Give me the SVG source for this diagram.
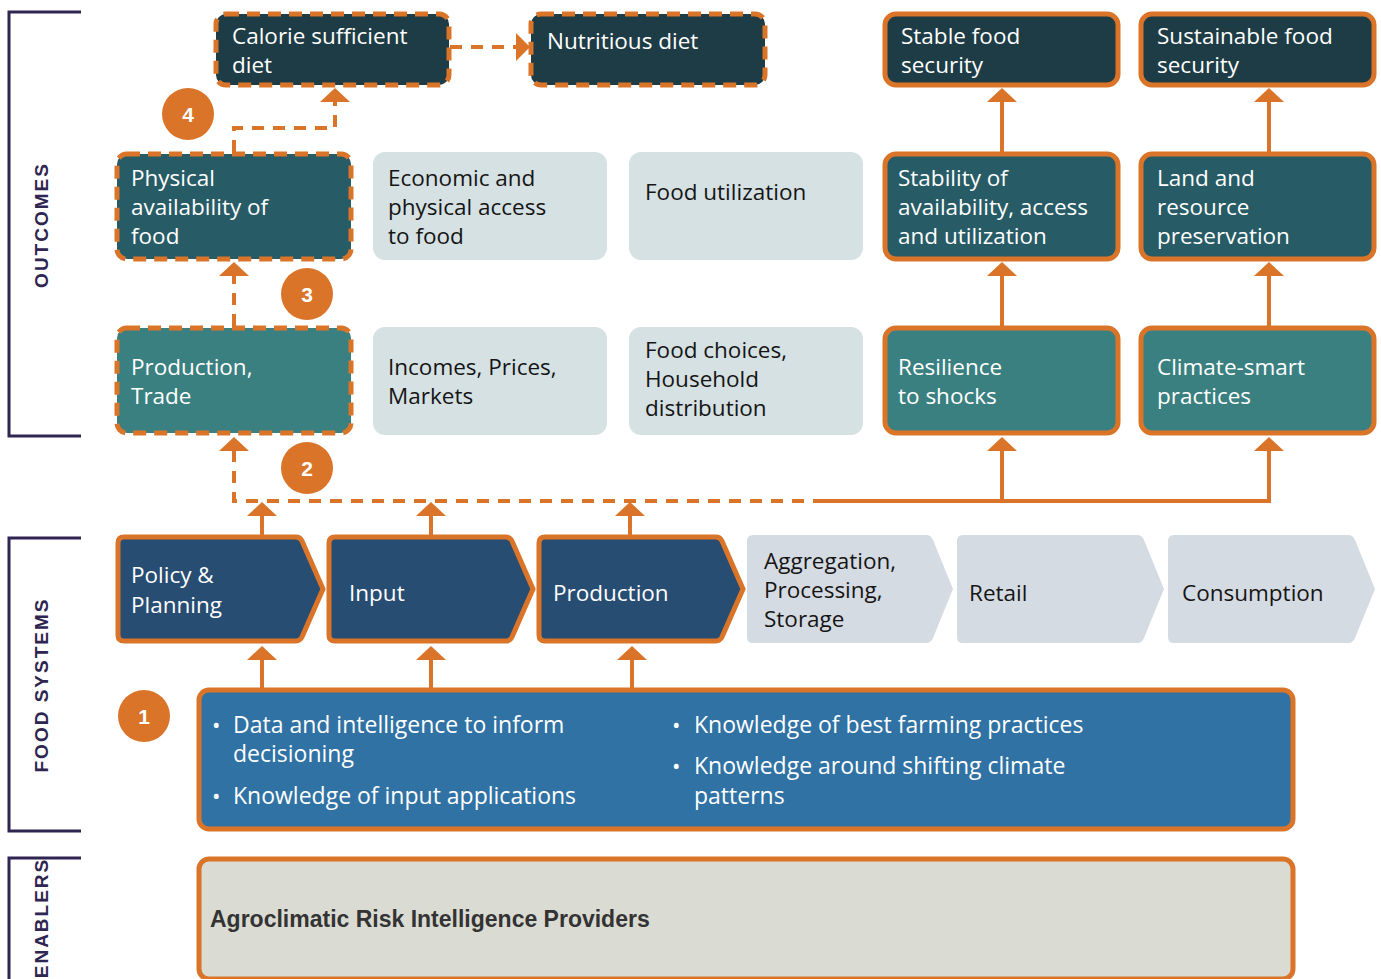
<svg xmlns="http://www.w3.org/2000/svg" width="1381" height="979" viewBox="0 0 1381 979">
<defs>
<style>
.t{font-family:"Open Sans","Liberation Sans",Arial,sans-serif;font-size:22.5px;}
.b{font-size:23px;}
.w{fill:#ffffff;}
.k{fill:#151515;}
.dash{stroke:#d97428;stroke-width:5;stroke-dasharray:13 8;}
.solid{stroke:#d97428;stroke-width:5;}
.ln{fill:none;stroke:#d97428;stroke-width:4;}
.dl{fill:none;stroke:#d97428;stroke-width:4;stroke-dasharray:12 9;}
.ah{fill:#d97428;}
.br{fill:none;stroke:#2e2550;stroke-width:3;}
.lab{font-family:"Liberation Sans",Arial,sans-serif;font-size:19px;font-weight:bold;fill:#2e2550;letter-spacing:2px;}
.num{font-family:"Liberation Sans",Arial,sans-serif;font-size:21px;font-weight:bold;fill:#ffffff;}
</style>
</defs>
<rect width="1381" height="979" fill="#ffffff"/>

<g id="brackets">
<path class="br" d="M81 12 H9 V436 H81"/>
<text class="lab" transform="translate(48 225) rotate(-90)" text-anchor="middle">OUTCOMES</text>
<path class="br" d="M81 538 H9 V831 H81"/>
<text class="lab" transform="translate(48 685) rotate(-90)" text-anchor="middle">FOOD SYSTEMS</text>
<path class="br" d="M81 858 H9 V979"/>
<text class="lab" transform="translate(48 918) rotate(-90)" text-anchor="middle">ENABLERS</text>
</g>

<g id="connectors">
<path class="dl" d="M450 47 H518"/>
<polygon class="ah" points="530,47 516,33 516,61"/>
<path class="dl" d="M234 152 V128 H335 V100"/>
<polygon class="ah" points="335,88 320,102 350,102"/>
<path class="dl" d="M234 326 V274"/>
<polygon class="ah" points="234,262 219,276 249,276"/>
<path class="dl" d="M234 450 V501 H815"/>
<polygon class="ah" points="234,437 219,451 249,451"/>
<path class="ln" d="M813 501 H1269 V449"/>
<path class="ln" d="M1002 501 V449"/>
<polygon class="ah" points="1002,437 987,451 1017,451"/>
<polygon class="ah" points="1269,437 1254,451 1284,451"/>
<path class="ln" d="M262 535 V512"/>
<polygon class="ah" points="262,502 247,516 277,516"/>
<path class="ln" d="M431 535 V512"/>
<polygon class="ah" points="431,502 416,516 446,516"/>
<path class="ln" d="M630 535 V512"/>
<polygon class="ah" points="630,502 615,516 645,516"/>
<path class="ln" d="M262 688 V657"/>
<polygon class="ah" points="262,646 247,660 277,660"/>
<path class="ln" d="M431 688 V657"/>
<polygon class="ah" points="431,646 416,660 446,660"/>
<path class="ln" d="M632 688 V657"/>
<polygon class="ah" points="632,646 617,660 647,660"/>
<path class="ln" d="M1002 326 V274"/>
<polygon class="ah" points="1002,262 987,276 1017,276"/>
<path class="ln" d="M1269 326 V274"/>
<polygon class="ah" points="1269,262 1254,276 1284,276"/>
<path class="ln" d="M1002 152 V100"/>
<polygon class="ah" points="1002,88 987,102 1017,102"/>
<path class="ln" d="M1269 152 V100"/>
<polygon class="ah" points="1269,88 1254,102 1284,102"/>
</g>

<g id="calorie">
<rect class="dash" x="216" y="14" width="233" height="71" rx="10" fill="#1e3c45"/>
<text class="t w" x="232" y="44">Calorie sufficient</text>
<text class="t w" x="232" y="73">diet</text>
</g>
<g id="nutritious">
<rect class="dash" x="531" y="14" width="234" height="71" rx="10" fill="#1e3c45"/>
<text class="t w" x="547" y="49">Nutritious diet</text>
</g>
<g id="stable">
<rect class="solid" x="885" y="14" width="233" height="71" rx="11" fill="#1e3c45"/>
<text class="t w" x="901" y="44">Stable food</text>
<text class="t w" x="901" y="73">security</text>
</g>
<g id="sustainable">
<rect class="solid" x="1141" y="14" width="233" height="71" rx="11" fill="#1e3c45"/>
<text class="t w" x="1157" y="44">Sustainable food</text>
<text class="t w" x="1157" y="73">security</text>
</g>

<g id="physical">
<rect class="dash" x="117" y="154" width="234" height="105" rx="10" fill="#275b66"/>
<text class="t w" x="131" y="186">Physical</text>
<text class="t w" x="131" y="215">availability of</text>
<text class="t w" x="131" y="244">food</text>
</g>
<g id="economic">
<rect x="373" y="152" width="234" height="108" rx="12" fill="#d5e1e3"/>
<text class="t k" x="388" y="186">Economic and</text>
<text class="t k" x="388" y="215">physical access</text>
<text class="t k" x="388" y="244">to food</text>
</g>
<g id="utilization">
<rect x="629" y="152" width="234" height="108" rx="12" fill="#d5e1e3"/>
<text class="t k" x="645" y="200">Food utilization</text>
</g>
<g id="stability">
<rect class="solid" x="885" y="154" width="233" height="105" rx="11" fill="#275b66"/>
<text class="t w" x="898" y="186">Stability of</text>
<text class="t w" x="898" y="215">availability, access</text>
<text class="t w" x="898" y="244">and utilization</text>
</g>
<g id="land">
<rect class="solid" x="1141" y="154" width="233" height="105" rx="11" fill="#275b66"/>
<text class="t w" x="1157" y="186">Land and</text>
<text class="t w" x="1157" y="215">resource</text>
<text class="t w" x="1157" y="244">preservation</text>
</g>

<g id="production-trade">
<rect class="dash" x="117" y="328" width="234" height="105" rx="10" fill="#3a8080"/>
<text class="t w" x="131" y="375">Production,</text>
<text class="t w" x="131" y="404">Trade</text>
</g>
<g id="incomes">
<rect x="373" y="327" width="234" height="108" rx="12" fill="#d5e1e3"/>
<text class="t k" x="388" y="375">Incomes, Prices,</text>
<text class="t k" x="388" y="404">Markets</text>
</g>
<g id="food-choices">
<rect x="629" y="327" width="234" height="108" rx="12" fill="#d5e1e3"/>
<text class="t k" x="645" y="358">Food choices,</text>
<text class="t k" x="645" y="387">Household</text>
<text class="t k" x="645" y="416">distribution</text>
</g>
<g id="resilience">
<rect class="solid" x="885" y="328" width="233" height="105" rx="11" fill="#3a8080"/>
<text class="t w" x="898" y="375">Resilience</text>
<text class="t w" x="898" y="404">to shocks</text>
</g>
<g id="climate-smart">
<rect class="solid" x="1141" y="328" width="233" height="105" rx="11" fill="#3a8080"/>
<text class="t w" x="1157" y="375">Climate-smart</text>
<text class="t w" x="1157" y="404">practices</text>
</g>

<g id="policy">
<path class="solid" fill="#274d72" d="M124 537 H296 Q300 537 302 541 L323 589 L302 637 Q300 641 296 641 H124 Q118 641 118 635 V543 Q118 537 124 537 Z"/>
<text class="t w" x="131" y="583">Policy &amp;</text>
<text class="t w" x="131" y="613">Planning</text>
</g>
<g id="input">
<path class="solid" fill="#274d72" d="M335 537 H506 Q510 537 512 541 L533 589 L512 637 Q510 641 506 641 H335 Q329 641 329 635 V543 Q329 537 335 537 Z"/>
<text class="t w" x="349" y="601">Input</text>
</g>
<g id="production">
<path class="solid" fill="#274d72" d="M545 537 H716 Q720 537 722 541 L743 589 L722 637 Q720 641 716 641 H545 Q539 641 539 635 V543 Q539 537 545 537 Z"/>
<text class="t w" x="553" y="601">Production</text>
</g>
<g id="aggregation">
<path fill="#d5dbe3" d="M753 535 H926 Q931 535 933 540 L953 589 L933 638 Q931 643 926 643 H753 Q747 643 747 637 V541 Q747 535 753 535 Z"/>
<text class="t k" x="764" y="569">Aggregation,</text>
<text class="t k" x="764" y="598">Processing,</text>
<text class="t k" x="764" y="627">Storage</text>
</g>
<g id="retail">
<path fill="#d5dbe3" d="M963 535 H1137 Q1142 535 1144 540 L1164 589 L1144 638 Q1142 643 1137 643 H963 Q957 643 957 637 V541 Q957 535 963 535 Z"/>
<text class="t k" x="969" y="601">Retail</text>
</g>
<g id="consumption">
<path fill="#d5dbe3" d="M1174 535 H1348 Q1353 535 1355 540 L1375 589 L1355 638 Q1353 643 1348 643 H1174 Q1168 643 1168 637 V541 Q1168 535 1174 535 Z"/>
<text class="t k" x="1182" y="601">Consumption</text>
</g>

<g id="knowledge">
<rect class="solid" x="199" y="690" width="1094" height="139" rx="10" fill="#3072a4"/>
<text class="t w" x="212" y="733" font-size="16">•</text>
<text class="t b w" x="233" y="733">Data and intelligence to inform</text>
<text class="t b w" x="233" y="762">decisioning</text>
<text class="t w" x="212" y="804" font-size="16">•</text>
<text class="t b w" x="233" y="804">Knowledge of input applications</text>
<text class="t w" x="672" y="733" font-size="16">•</text>
<text class="t b w" x="694" y="733">Knowledge of best farming practices</text>
<text class="t w" x="672" y="774" font-size="16">•</text>
<text class="t b w" x="694" y="774">Knowledge around shifting climate</text>
<text class="t b w" x="694" y="804">patterns</text>
</g>

<g id="enablers">
<rect class="solid" x="199" y="859" width="1094" height="120" rx="10" fill="#dadbd3"/>
<text x="210" y="927" font-family="Liberation Sans, Arial, sans-serif" font-size="23" font-weight="bold" fill="#333333">Agroclimatic Risk Intelligence Providers</text>
</g>

<g id="markers">
<circle cx="188" cy="114" r="26" fill="#d97428"/>
<text class="num" x="188" y="122" text-anchor="middle">4</text>
<circle cx="307" cy="294" r="26" fill="#d97428"/>
<text class="num" x="307" y="302" text-anchor="middle">3</text>
<circle cx="307" cy="468" r="26" fill="#d97428"/>
<text class="num" x="307" y="476" text-anchor="middle">2</text>
<circle cx="144" cy="716" r="26" fill="#d97428"/>
<text class="num" x="144" y="724" text-anchor="middle">1</text>
</g>
</svg>
